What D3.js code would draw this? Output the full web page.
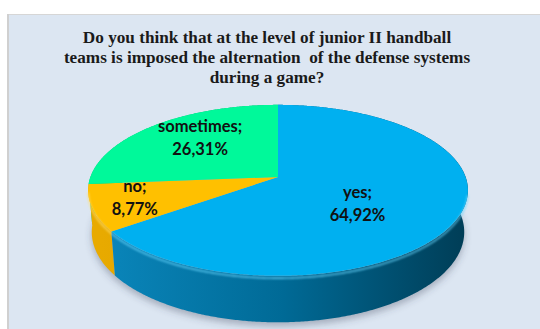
<!DOCTYPE html>
<html><head><meta charset="utf-8">
<script src="https://cdn.jsdelivr.net/npm/d3@7/dist/d3.min.js"></script>
<style>html,body{margin:0;padding:0;background:#fff;overflow:hidden}</style>
</head><body>
<script>
const categories = ["yes", "no", "sometimes"];
const values = [64.92, 8.77, 26.31];
const valueLabels = ["64,92%", "8,77%", "26,31%"];
const titleLines = [
  "Do you think that at the level of junior II handball",
  "teams is imposed the alternation  of the defense systems",
  "during a game?"
];
const topColors = ["#00b0f0", "#ffc000", "#00f99a"];
const sideColors = [["#0a86bb", "#006a96", "#003d56"], ["#e8aa00", "#d89e00", "#c89000"], ["#00c87a", "#00b06a", "#009a5c"]];
const labelR = [0.46, 0.78, 0.60];
const labelDy = [9, -3, -7];

const W = 540, H = 329;
const svg = d3.select("body").append("svg").attr("width", W).attr("height", H)
  .style("font-family", "Lato, 'Noto Sans', sans-serif");

// panel
svg.append("rect").attr("x", 7).attr("y", 14).attr("width", W).attr("height", H).attr("fill", "#dce6f2");
svg.append("line").attr("x1", 7).attr("x2", W).attr("y1", 14.5).attr("y2", 14.5).attr("stroke", "#d6d6d6").attr("stroke-width", 1);
svg.append("line").attr("x1", 8).attr("x2", 8).attr("y1", 14).attr("y2", H).attr("stroke", "#d0d0d0").attr("stroke-width", 2);

// title
const title = svg.append("text").attr("text-anchor", "middle")
  .style("font-family", "'Liberation Serif', 'Times New Roman', serif")
  .style("white-space", "pre")
  .style("font-weight", "bold").style("font-size", "17.2px").attr("fill", "#1a1a1a");
titleLines.forEach((t, i) => {
  title.append("tspan").attr("x", 267).attr("y", 43 + i * 20).text(t);
});

// 3D projection
const cx = 278, cy = 177, k = 187.6, D = 5.74, elev = 26.4 * Math.PI / 180, h = 0.25;
const ce = Math.cos(elev), se = Math.sin(elev);
function proj(r, a, Y) {
  const X = r * Math.sin(a), Z = -r * Math.cos(a);
  const d = Z * ce + Y * se, v = Y * ce - Z * se;
  const s = D / (D - d);
  return [cx + k * X * s, cy - k * v * s];
}
function rimPoints(a0, a1, Y) {
  const n = Math.max(2, Math.ceil(Math.abs(a1 - a0) / (Math.PI / 360)));
  const pts = [];
  for (let i = 0; i <= n; i++) pts.push(proj(1, a0 + (a1 - a0) * i / n, Y));
  return pts;
}
const line = d3.line();

const arcs = d3.pie().sort(null).value(d => d).startAngle(0).endAngle(2 * Math.PI)(values);

const defs = svg.append("defs");
defs.append("filter").attr("id", "blur").attr("x", "-20%").attr("y", "-20%").attr("width", "140%").attr("height", "140%")
  .append("feGaussianBlur").attr("stdDeviation", 3.5);
defs.append("filter").attr("id", "blur1").append("feGaussianBlur").attr("stdDeviation", 0.8);
arcs.forEach((a, i) => {
  const g = defs.append("linearGradient").attr("id", "side" + i).attr("gradientUnits", "userSpaceOnUse")
    .attr("x1", 100).attr("x2", 467).attr("y1", 0).attr("y2", 0);
  g.append("stop").attr("offset", "0%").attr("stop-color", sideColors[i][0]);
  g.append("stop").attr("offset", "50%").attr("stop-color", sideColors[i][1]);
  g.append("stop").attr("offset", "100%").attr("stop-color", sideColors[i][2]);
});

// shadow
svg.append("path")
  .attr("d", line(rimPoints(0, 2 * Math.PI, -h)) + "Z")
  .attr("transform", "translate(0,4)")
  .attr("fill", "rgba(60,70,90,0.35)").attr("filter", "url(#blur)");

// sides, back to front
const order = [2, 1, 0];
order.forEach(i => {
  const a = arcs[i];
  const top = rimPoints(a.startAngle, a.endAngle, 0);
  const bot = rimPoints(a.endAngle, a.startAngle, -h);
  svg.append("path").attr("d", line(top.concat(bot)) + "Z").attr("fill", `url(#side${i})`);
});

// tops
arcs.forEach((a, i) => {
  const pts = [proj(0, 0, 0)].concat(rimPoints(a.startAngle, a.endAngle, 0));
  svg.append("path").attr("d", line(pts) + "Z").attr("fill", topColors[i]);
});

// rim highlight along front edge
arcs.forEach((a, i) => {
  const a0 = Math.max(a.startAngle, Math.PI * 0.56), a1 = Math.min(a.endAngle, Math.PI * 1.45);
  if (a1 <= a0) return;
  svg.append("path").attr("d", line(rimPoints(a0, a1, -0.012)))
    .attr("fill", "none").attr("stroke", i === 0 ? "#6ad8ff" : "#ffe070")
    .attr("stroke-width", 1.6).attr("stroke-opacity", 0.8).attr("filter", "url(#blur1)");
});

// labels
arcs.forEach((a, i) => {
  const mid = (a.startAngle + a.endAngle) / 2;
  const p = proj(labelR[i], mid, 0);
  const t = svg.append("text").attr("text-anchor", "middle")
    .style("font-weight", "bold").style("font-size", "16.5px").attr("fill", "#111");
  t.append("tspan").attr("x", p[0]).attr("y", p[1] + labelDy[i] - 6).text(categories[i] + ";");
  t.append("tspan").attr("x", p[0]).attr("y", p[1] + labelDy[i] + 17).text(valueLabels[i]);
});
</script>
</body></html>
